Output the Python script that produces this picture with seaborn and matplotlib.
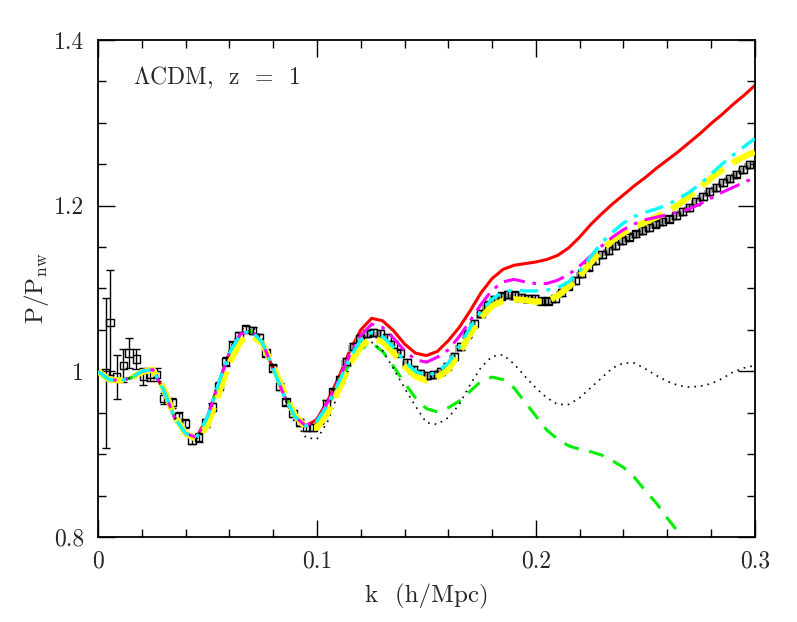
import matplotlib
matplotlib.use('Agg')
import matplotlib.pyplot as plt
import matplotlib.transforms as mtransforms
import seaborn as sns
import numpy as np
from matplotlib.ticker import MultipleLocator, FixedLocator, FixedFormatter

# --- data ---
k_grid = [0.0, 0.005, 0.01, 0.015, 0.02, 0.025, 0.03, 0.035, 0.04, 0.045,
          0.05, 0.055, 0.06, 0.065, 0.07, 0.075, 0.08, 0.085, 0.09, 0.095,
          0.1, 0.105, 0.11, 0.115, 0.12, 0.125, 0.13, 0.135, 0.14, 0.145,
          0.15, 0.155, 0.16, 0.165, 0.17, 0.175, 0.18, 0.185, 0.19, 0.195,
          0.2, 0.205, 0.21, 0.215, 0.22, 0.225, 0.23, 0.235, 0.24, 0.245,
          0.25, 0.255, 0.26, 0.265, 0.27, 0.275, 0.28, 0.285, 0.29, 0.295, 0.3]

low_k = [1.000, 0.990, 0.989, 0.992, 1.000, 1.002, 0.977, 0.944, 0.925, 0.920,
         0.945, 0.985, 1.022, 1.045, 1.049, 1.035, 1.003, 0.971, 0.945, 0.934]

red = low_k + [0.942, 0.965, 0.993, 1.025, 1.050, 1.064, 1.061, 1.049, 1.033, 1.022,
               1.019, 1.024, 1.037, 1.053, 1.073, 1.095, 1.112, 1.123, 1.128, 1.130,
               1.132, 1.135, 1.140, 1.149, 1.162, 1.177, 1.190, 1.202, 1.213, 1.224,
               1.234, 1.245, 1.255, 1.265, 1.276, 1.287, 1.299, 1.310, 1.322, 1.333, 1.345]

magenta = low_k + [0.942, 0.963, 0.990, 1.020, 1.043, 1.057, 1.053, 1.040, 1.025, 1.014,
                   1.011, 1.017, 1.026, 1.042, 1.061, 1.081, 1.098, 1.108, 1.111, 1.108,
                   1.106, 1.106, 1.110, 1.117, 1.127, 1.139, 1.151, 1.162, 1.171, 1.178,
                   1.183, 1.186, 1.189, 1.192, 1.196, 1.202, 1.209, 1.216, 1.222, 1.228, 1.234]

cyan = low_k + [0.940, 0.960, 0.987, 1.016, 1.038, 1.047, 1.042, 1.029, 1.012, 1.000,
                0.995, 0.999, 1.010, 1.030, 1.053, 1.073, 1.087, 1.096, 1.098, 1.097,
                1.097, 1.098, 1.101, 1.108, 1.121, 1.138, 1.155, 1.168, 1.179, 1.187,
                1.192, 1.196, 1.201, 1.208, 1.216, 1.226, 1.238, 1.250, 1.261, 1.271, 1.281]

yellow = [1.000, 0.990, 0.989, 0.992, 0.999, 1.002, 0.979, 0.946, 0.925, 0.918,
          0.935, 0.972, 1.010, 1.036, 1.043, 1.034, 1.006, 0.975, 0.947, 0.932,
          0.932, 0.950, 0.978, 1.008, 1.030, 1.040, 1.036, 1.022, 1.006, 0.994,
          0.989, 0.993, 1.002, 1.022, 1.045, 1.065, 1.079, 1.085, 1.087, 1.086,
          1.084, 1.085, 1.091, 1.102, 1.115, 1.131, 1.146, 1.158, 1.167, 1.174,
          1.180, 1.186, 1.193, 1.201, 1.211, 1.222, 1.233, 1.243, 1.252, 1.259, 1.265]

green = low_k + [0.938, 0.958, 0.985, 1.010, 1.027, 1.034, 1.024, 1.006, 0.986, 0.968,
                 0.955, 0.951, 0.956, 0.964, 0.976, 0.988, 0.993, 0.990, 0.980, 0.963,
                 0.946, 0.929, 0.918, 0.910, 0.906, 0.903, 0.899, 0.892, 0.884, 0.872,
                 0.856, 0.841, 0.823, 0.806, 0.790]

dotted = [1.000, 0.990, 0.989, 0.992, 1.000, 1.003, 0.977, 0.942, 0.922, 0.918,
          0.943, 0.986, 1.026, 1.050, 1.055, 1.040, 1.005, 0.968, 0.938, 0.920,
          0.918, 0.940, 0.975, 1.005, 1.028, 1.035, 1.025, 1.003, 0.980, 0.958,
          0.938, 0.936, 0.944, 0.960, 0.984, 1.005, 1.018, 1.020, 1.009, 0.994,
          0.980, 0.968, 0.960, 0.960, 0.968, 0.980, 0.992, 1.004, 1.010, 1.010,
          1.003, 0.995, 0.988, 0.983, 0.981, 0.982, 0.985, 0.991, 0.999, 1.004, 1.007]

# simulation points (open squares with error bars)
k_pts = [0.0035, 0.0055, 0.0085, 0.0115, 0.0142, 0.0175, 0.0207, 0.0237, 0.0268, 0.0300,
         0.0338, 0.0368, 0.0399, 0.0430, 0.0460, 0.0491, 0.0522, 0.0552, 0.0583, 0.0614,
         0.0644, 0.0675, 0.0706, 0.0737, 0.0767, 0.0798, 0.0829, 0.0859, 0.0890, 0.0921,
         0.0951, 0.0982, 0.1013, 0.1043, 0.1074, 0.1105, 0.1135, 0.1166, 0.1197, 0.1228,
         0.1258, 0.1289, 0.1320, 0.1350, 0.1381, 0.1412, 0.1442, 0.1473, 0.1504, 0.1535,
         0.1565, 0.1596, 0.1627, 0.1657, 0.1688, 0.1719, 0.1749, 0.1780, 0.1811, 0.1842,
         0.1872, 0.1903, 0.1934, 0.1964, 0.1995, 0.2026, 0.2056, 0.2087, 0.2118, 0.2148,
         0.2179, 0.2210, 0.2241, 0.2271, 0.2302, 0.2333, 0.2363, 0.2394, 0.2425, 0.2456,
         0.2486, 0.2517, 0.2548, 0.2578, 0.2609, 0.2640, 0.2670, 0.2701, 0.2732, 0.2763,
         0.2793, 0.2824, 0.2855, 0.2885, 0.2916, 0.2947, 0.2977]
p_pts = [0.998, 1.059, 0.993, 1.007, 1.022, 1.015, 0.994, 0.996, 0.996, 0.967,
         0.962, 0.945, 0.937, 0.917, 0.920, 0.938, 0.957, 0.982, 1.012, 1.031,
         1.043, 1.051, 1.049, 1.041, 1.022, 1.004, 0.982, 0.963, 0.949, 0.938,
         0.932, 0.932, 0.941, 0.961, 0.975, 0.990, 1.012, 1.030, 1.040, 1.046,
         1.047, 1.046, 1.041, 1.032, 1.022, 1.011, 1.002, 0.997, 0.995, 0.996,
         1.000, 1.006, 1.018, 1.030, 1.045, 1.058, 1.070, 1.080, 1.087, 1.091,
         1.093, 1.092, 1.089, 1.088, 1.088, 1.085, 1.085, 1.088, 1.095, 1.103,
         1.110, 1.118, 1.126, 1.134, 1.141, 1.146, 1.152, 1.158, 1.162, 1.166,
         1.170, 1.174, 1.178, 1.181, 1.184, 1.188, 1.193, 1.198, 1.205, 1.211,
         1.217, 1.222, 1.228, 1.233, 1.238, 1.244, 1.250]
p_err = [0.090, 0.063, 0.027, 0.020, 0.018, 0.012, 0.010, 0.008, 0.008, 0.007,
         0.006, 0.006, 0.006, 0.005, 0.005, 0.005, 0.005, 0.005, 0.005, 0.005,
         0.004, 0.004, 0.004, 0.004, 0.004, 0.004, 0.004, 0.004, 0.004, 0.004] + [0.004] * 67
n_shade = 36  # points from here on carry the grey shadow seen in the original

sns.set_theme(style='ticks')
plt.rcParams['font.family'] = ['cmr10', 'DejaVu Serif']
plt.rcParams['mathtext.fontset'] = 'cm'
plt.rcParams['axes.unicode_minus'] = False

fig = plt.figure(figsize=(7.97, 6.22), dpi=100)
ax = fig.add_axes([0.123, 0.1367, 0.824, 0.799])

# model curves underneath
sns.lineplot(x=k_grid, y=red, color='#ff0000', linewidth=2.2, zorder=2, ax=ax)
sns.lineplot(x=k_grid[:len(green)], y=green, color='#00ee00', linewidth=2.2,
             linestyle=(0, (5, 3.5)), zorder=2, ax=ax)
sns.lineplot(x=k_grid, y=dotted, color='black', linewidth=1.2,
             linestyle=(0, (1, 3)), zorder=2, ax=ax)

# data points
shadow = mtransforms.offset_copy(ax.transData, fig=fig, x=-2, y=-2, units='dots')
ax.scatter(k_pts[n_shade:], p_pts[n_shade:], marker='s', s=24, facecolor='#a8a8a8',
           edgecolor='none', transform=shadow, zorder=3)
ax.errorbar(k_pts, p_pts, yerr=p_err, fmt='none', ecolor='black', elinewidth=1.0,
            capsize=3.2, capthick=1.0, zorder=4)
sns.scatterplot(x=k_pts, y=p_pts, marker='s', s=28, facecolor='none',
                edgecolor='black', linewidth=1.0, zorder=4, ax=ax)

sns.lineplot(x=k_grid, y=yellow, color='#ffff00', linewidth=4.5,
             linestyle=(0, (4.5, 1.6)), zorder=5, ax=ax)
sns.lineplot(x=k_grid, y=magenta, color='#ff00ff', linewidth=2.2,
             linestyle=(0, (7, 2.5, 1.2, 2.5)), zorder=6, ax=ax)
sns.lineplot(x=k_grid, y=cyan, color='#00ffff', linewidth=2.4,
             linestyle=(0, (5.5, 2.5, 1.2, 2.5)), zorder=7, ax=ax)

ax.set_xlim(0, 0.3)
ax.set_ylim(0.8, 1.4)
ax.xaxis.set_major_locator(FixedLocator([0, 0.1, 0.2, 0.3]))
ax.xaxis.set_major_formatter(FixedFormatter(['0', '0.1', '0.2', '0.3']))
ax.xaxis.set_minor_locator(MultipleLocator(0.02))
ax.yaxis.set_major_locator(FixedLocator([0.8, 1.0, 1.2, 1.4]))
ax.yaxis.set_major_formatter(FixedFormatter(['0.8', '1', '1.2', '1.4']))
ax.yaxis.set_minor_locator(MultipleLocator(0.05))

ax.tick_params(which='both', direction='in', top=True, right=True,
               labelsize=17, color='black', width=1.0)
ax.tick_params(which='major', length=12, pad=10)
ax.tick_params(which='minor', length=6)
for sp in ax.spines.values():
    sp.set_color('black')
    sp.set_linewidth(1.3)

ax.set_xlabel('k  (h/Mpc)', fontsize=18, labelpad=8)
ax.set_ylabel(r'P/P$_{\rm nw}$', fontsize=18, labelpad=2)
ax.text(0.053, 0.925, r'$\Lambda$CDM,  z  =  1', transform=ax.transAxes,
        fontsize=17, ha='left', va='center')

fig.savefig('out.png', dpi=100)
